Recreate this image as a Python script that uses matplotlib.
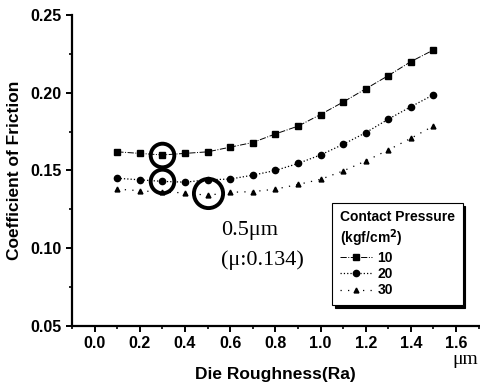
import matplotlib
matplotlib.use("Agg")
import matplotlib.pyplot as plt
from matplotlib.ticker import MultipleLocator

plt.rcParams["font.family"] = ["Liberation Sans", "DejaVu Sans"]

roughness = [0.1, 0.2, 0.3, 0.4, 0.5, 0.6, 0.7, 0.8, 0.9, 1.0, 1.1, 1.2, 1.3, 1.4, 1.5]
cof_10 = [0.162, 0.161, 0.160, 0.161, 0.162, 0.165, 0.168, 0.1735, 0.1785, 0.186,
          0.194, 0.2025, 0.211, 0.220, 0.2275]
cof_20 = [0.145, 0.144, 0.143, 0.1425, 0.144, 0.1445, 0.147, 0.150, 0.1545, 0.160,
          0.1668, 0.1743, 0.183, 0.191, 0.1987]
cof_30 = [0.138, 0.137, 0.136, 0.1357, 0.134, 0.136, 0.1364, 0.138, 0.141, 0.1443,
          0.1497, 0.1561, 0.1632, 0.1707, 0.1786]
labels = ["10", "20", "30"]

# highlighted points: (x, y, marker size)
circles = [(0.3, 0.160, 17), (0.3, 0.1435, 17), (0.5, 0.1355, 21)]

SERIF = ["Liberation Serif", "DejaVu Serif"]

fig = plt.figure(figsize=(4.81, 3.84), dpi=100)
ax = fig.add_axes([0.150, 0.151, 0.845, 0.810])

ax.plot(roughness, cof_10, color="black", linestyle="-.", linewidth=0.7,
        marker="s", markersize=4.5, label=labels[0])
ax.plot(roughness, cof_20, color="black", linestyle=":", linewidth=0.9,
        marker="o", markersize=4.5, label=labels[1])
ax.plot(roughness, cof_30, color="black", linestyle=(0, (1, 5)), linewidth=0.9,
        marker="^", markersize=3.5, label=labels[2])

for cx, cy, ms in circles:
    ax.plot([cx], [cy], marker="o", markersize=ms, markerfacecolor="none",
            markeredgecolor="black", markeredgewidth=2.8, linestyle="none")

ax.text(0.56, 0.1085, "0.5\u03bcm", fontsize=16, family=SERIF, va="baseline")
ax.text(0.56, 0.0895, "(\u03bc:0.134)", fontsize=16, family=SERIF, va="baseline")

ax.set_xlim(-0.1, 1.7)
ax.set_ylim(0.05, 0.25)
ax.xaxis.set_major_locator(MultipleLocator(0.2))
ax.xaxis.set_minor_locator(MultipleLocator(0.1))
ax.yaxis.set_major_locator(MultipleLocator(0.05))
ax.yaxis.set_minor_locator(MultipleLocator(0.025))
ax.xaxis.set_major_formatter(plt.FuncFormatter(lambda v, p: f"{v:.1f}"))
ax.yaxis.set_major_formatter(plt.FuncFormatter(lambda v, p: f"{v:.2f}"))

for s in ["top", "right"]:
    ax.spines[s].set_visible(False)
for s in ["left", "bottom"]:
    ax.spines[s].set_linewidth(1.6)
ax.tick_params(which="major", direction="out", length=4, width=1.4, labelsize=11.5, pad=3.5)
ax.tick_params(which="minor", direction="out", length=2.5, width=1.2)
for t in ax.get_xticklabels() + ax.get_yticklabels():
    t.set_fontweight("bold")

ax.set_xlabel("Die Roughness(Ra)", fontsize=12.5, fontweight="bold", labelpad=11)
ax.set_ylabel("Coefficient of Friction", fontsize=12.5, fontweight="bold", labelpad=6)
fig.text(0.94, 0.051, "\u03bcm", fontsize=14, family=SERIF, va="baseline")

leg = ax.legend(title="Contact Pressure\n(kgf/cm$^\\mathbf{2}$)", loc="lower left",
                bbox_to_anchor=(0.64, 0.0675), borderaxespad=0, fancybox=False,
                edgecolor="black", shadow={"color": "black", "alpha": 1},
                prop={"weight": "bold", "size": 10},
                title_fontproperties={"weight": "bold", "size": 10},
                handlelength=2.3, handletextpad=0.4, labelspacing=0.15,
                borderpad=0.55, framealpha=1)
leg._legend_box.align = "left"
leg.get_frame().set_linewidth(0.8)

fig.savefig("out.png", dpi=100)
